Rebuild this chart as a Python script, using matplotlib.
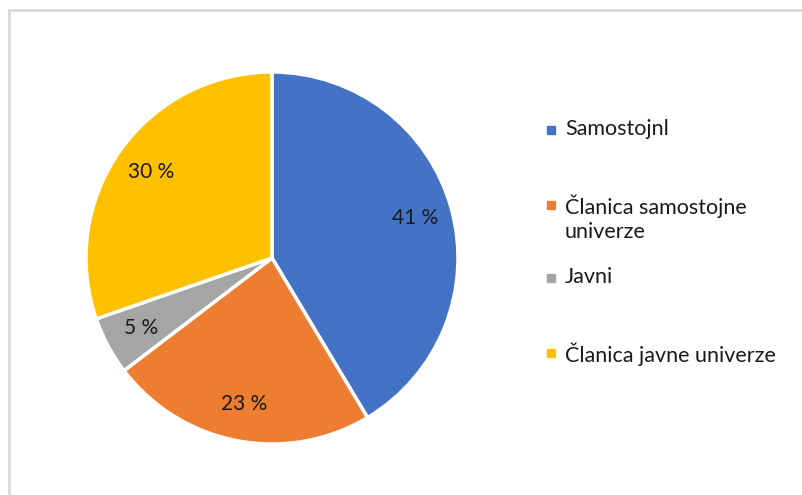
import matplotlib
matplotlib.use("Agg")
import matplotlib.pyplot as plt
from matplotlib.patches import Rectangle
from matplotlib.lines import Line2D

categories = ["Samostojnl", "Članica samostojne\nuniverze", "Javni", "Članica javne univerze"]
shares = [41, 23, 5, 30]
colors = ["#4472C4", "#ED7D31", "#A5A5A5", "#FFC000"]

plt.rcParams["font.family"] = ["Lato", "DejaVu Sans"]

W, H = 802, 495
fig = plt.figure(figsize=(W / 100, H / 100), dpi=100)

# chart area frame (only top and left edges visible in the crop)
fig.add_artist(Line2D([9 / W, 1], [1 - 9.5 / H, 1 - 9.5 / H], color="#D9D9D9", lw=2))
fig.add_artist(Line2D([9 / W, 9 / W], [0, 1 - 9.5 / H], color="#D9D9D9", lw=2))

ax = fig.add_axes([86 / W, 51 / H, 372 / W, 372 / H])
vals = iter(shares)
ax.pie(shares, colors=colors, startangle=90, counterclock=False,
       autopct=lambda p: f"{next(vals)} %", pctdistance=0.8,
       wedgeprops=dict(edgecolor="white", linewidth=2.5),
       textprops=dict(fontsize=15, color="#1a1a1a"))
ax.set_xlim(-1.0, 1.0)
ax.set_ylim(-1.0, 1.0)
ax.set_aspect("equal")

# legend
rows = [130, 205, 278, 353]
for lab, col, y in zip(categories, colors, rows):
    fig.add_artist(Rectangle((547 / W, 1 - (y + 4) / H), 8 / W, 8 / H,
                             transform=fig.transFigure, color=col))
    fig.text(565 / W, 1 - (y - 11) / H, lab, fontsize=15.5, color="#1a1a1a",
             va="top", ha="left", linespacing=1.3)

fig.savefig("out.png", dpi=100)
